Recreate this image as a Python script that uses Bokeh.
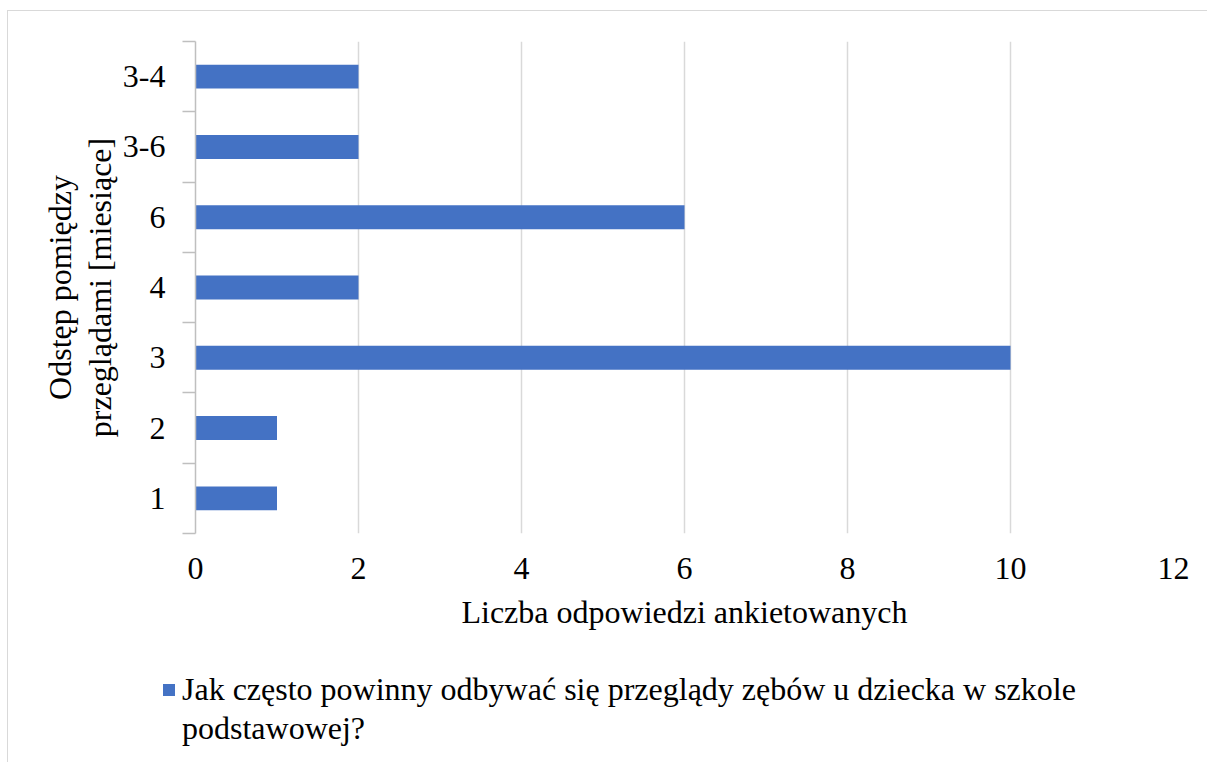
from bokeh.plotting import figure
from bokeh.models import Range1d, FixedTicker, Div
from bokeh.layouts import column
from bokeh.embed import file_html
from bokeh.resources import INLINE

categories = ["1", "2", "3", "4", "6", "3-6", "3-4"]
values = [1, 1, 10, 2, 6, 2, 2]
x_ticks = [0, 2, 4, 6, 8, 10, 12]
x_title = "Liczba odpowiedzi ankietowanych"
y_title_lines = ["Odstęp pomiędzy", "przeglądami [miesiące]"]
legend_lines = ["Jak często powinny odbywać się przeglądy zębów u dziecka w szkole", "podstawowej?"]

FONT = "Liberation Serif"
FS = "32px"
BAR = "#4472C4"
GRID = "#d9d9d9"
W = 1198

p = figure(width=W, height=640, output_backend="svg", toolbar_location=None,
           x_range=Range1d(0, 12), y_range=Range1d(0, len(categories)),
           min_border_left=187, min_border_right=33, min_border_top=30, min_border_bottom=118)
p.outline_line_color = None

ypos = [i + 0.5 for i in range(len(categories))]
bars = p.hbar(y=ypos, right=values, left=0, height=0.34, fill_color=BAR, line_color=None)

# x axis
p.xaxis.ticker = FixedTicker(ticks=x_ticks)
p.xaxis.axis_line_color = None
p.xaxis.major_tick_line_color = None
p.xaxis.minor_tick_line_color = None
p.xaxis.major_label_text_font = FONT
p.xaxis.major_label_text_font_size = FS
p.xaxis.major_label_text_color = "#000000"
p.xaxis.major_label_standoff = 18
p.xaxis.axis_label = x_title
p.xaxis.axis_label_text_font = FONT
p.xaxis.axis_label_text_font_size = FS
p.xaxis.axis_label_text_font_style = "normal"
p.xaxis.axis_label_text_color = "#000000"
p.xaxis.axis_label_standoff = 12

p.xgrid.ticker = FixedTicker(ticks=x_ticks)
p.xgrid.grid_line_color = GRID
p.xgrid.grid_line_width = 1.5
p.ygrid.visible = False

# y axis
p.yaxis.ticker = FixedTicker(ticks=ypos, minor_ticks=list(range(len(categories) + 1)))
p.yaxis.major_label_overrides = {y: c for y, c in zip(ypos, categories)}
p.yaxis.axis_line_color = "#bfbfbf"
p.yaxis.axis_line_width = 1.5
p.yaxis.major_tick_out = 0
p.yaxis.major_tick_in = 0
p.yaxis.minor_tick_out = 13
p.yaxis.minor_tick_in = 0
p.yaxis.minor_tick_line_color = "#bfbfbf"
p.yaxis.minor_tick_line_width = 1.5
p.yaxis.major_label_text_font = FONT
p.yaxis.major_label_text_font_size = FS
p.yaxis.major_label_text_color = "#000000"
p.yaxis.major_label_standoff = 17
p.yaxis.axis_label = "\n".join(y_title_lines)
p.yaxis.axis_label_text_font = FONT
p.yaxis.axis_label_text_font_size = FS
p.yaxis.axis_label_text_font_style = "normal"
p.yaxis.axis_label_text_color = "#000000"
p.yaxis.axis_label_text_line_height = 1.1
p.yaxis.axis_label_standoff = 2

legend_html = (
    '<div style="position:relative; width:%dpx; height:104px; font-family:Liberation Serif, serif; '
    'font-size:32px; line-height:39px; color:#000000;">'
    '<span style="position:absolute; left:150px; top:28px; width:12px; height:12px; '
    'background:%s;"></span>'
    '<div style="position:absolute; left:169px; top:14px; white-space:nowrap; '
    'font-family:Liberation Serif, serif;">%s<br>%s</div>'
    '</div>' % (W, BAR, legend_lines[0], legend_lines[1])
)
leg = Div(text=legend_html, width=W, height=104,
          styles={"font-family": "Liberation Serif, serif", "font-size": "32px"})

layout = column(p, leg, spacing=0)
layout.styles = {"border": "1px solid #d9d9d9", "margin-left": "7px", "margin-top": "10px",
                 "background": "#ffffff"}

open("out.html", "w").write(file_html(layout, INLINE))
